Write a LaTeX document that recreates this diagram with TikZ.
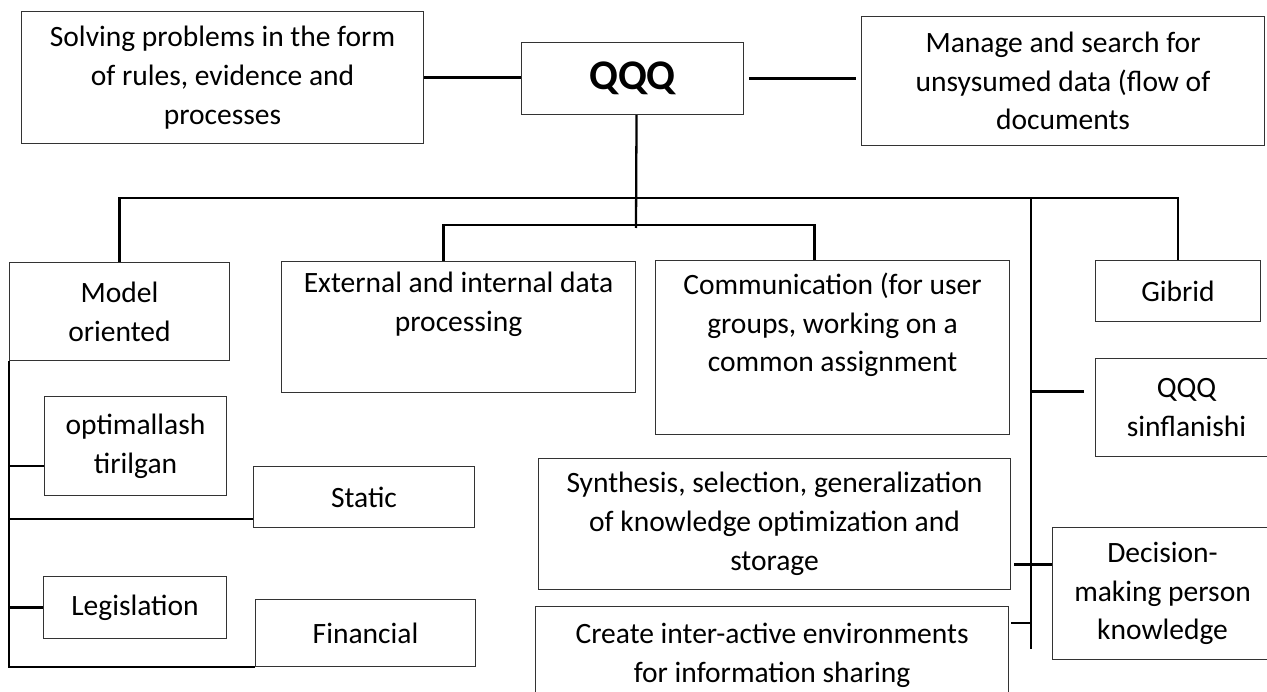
\documentclass[tikz,border=0pt]{standalone}
\usepackage{fontspec}
\setmainfont{Carlito}
\usepackage{tikz}
\usetikzlibrary{calc}
\definecolor{qqqframe}{HTML}{333333}
\definecolor{qqqlink}{HTML}{000000}

\begin{document}
\begin{tikzpicture}[x=0.02cm, y=-0.02cm,
  every node/.style={font=\fontsize{16.8}{22.1}\selectfont},
  box/.style 2 args={draw=qqqframe, line width=0.6pt, anchor=north west,
                     align=center, inner sep=0pt,
                     minimum width=#1*0.02cm, minimum height=#2*0.02cm},
  link/.style={line width=1.3pt, draw=qqqlink}
]
\useasboundingbox (0,0) rectangle (1267,692);
\clip (0,0) rectangle (1267,692);

% top row
\node[box={402}{132}] (solve) at (21,11) {Solving problems in the form\\of rules, evidence and\\processes};
\node[box={222}{72}, font=\fontsize{24}{28}\selectfont\bfseries] (qqq) at (521,42) {QQQ};
\node[box={403}{129}] (manage) at (861,16) {Manage and search for\\unsysumed data (flow of\\documents};

% branches
\node[box={220}{98}] (model) at (9,262) {Model\\oriented};
\node[box={354}{131}] (ext) at (281,261) {External and internal data\\processing\\\strut};
\node[box={354}{174}] (comm) at (655,260) {Communication (for user\\groups, working on a\\common assignment\\\strut};
\node[box={165}{61}] (gibrid) at (1095,260) {Gibrid};
\node[box={182}{98}] (sinfl) at (1095,358) {QQQ\\sinflanishi};

% model oriented kinds
\node[box={182}{99}] (opt) at (44,396) {optimallash\\tirilgan};
\node[box={221}{61}] (static) at (253,466) {Static};
\node[box={183}{62}] (leg) at (43,576) {Legislation};
\node[box={220}{67}] (fin) at (255,599) {Financial};

% right column
\node[box={472}{131}] (synth) at (538,458) {Synthesis, selection, generalization\\of knowledge optimization and\\storage};
\node[box={220}{132}] (dec) at (1052,527) {Decision-\\making person\\knowledge};
\node[box={473}{98}] (create) at (535,606) {Create inter-active environments\\for information sharing};

\coordinate (top) at (636,198);
\coordinate (mid) at (636,225);
\coordinate (rtop) at (1031,198);
\coordinate (rend) at (1031,649);

\draw[link] (solve.east) -- (solve.east -| qqq.west);
\draw[link, shorten <=0.1cm, shorten >=0.1cm] (qqq.east) -- (qqq.east -| manage.west);
\draw[link] ($(qqq.south)+(4,0)$) -- ($(mid)+(0,3)$);
\draw[link] (model.north) -- (model.north |- top) -- (gibrid.north |- top) -- (gibrid.north);
\draw[link] ($(ext.north)+(-15,0)$) |- (mid) -| ($(comm.north)+(-18,0)$);
\draw[link] (rtop) -- (rend);
\draw[link] ($(sinfl.west)+(-11,-16)$) -- ($(rend |- sinfl.west)+(0,-16)$);
\draw[link] ($(synth.east |- dec.west)+(3,-29)$) -- ($(dec.west)+(0,-29)$);
\draw[link] ($(create.north east)+(2,17)$) -- ($(rend |- create.north east)+(0,17)$);

% left spine
\draw[link] (model.south west) |- (fin.south west);
\draw[link] ($(opt.west)+(0,20)$) -- ($(model.south west |- opt.west)+(0,20)$);
\draw[link] ($(static.south west)+(0,-9)$) -- ($(model.south west |- static.south west)+(0,-9)$);
\draw[link] (leg.west) -- (model.south west |- leg.west);
\end{tikzpicture}
\end{document}
